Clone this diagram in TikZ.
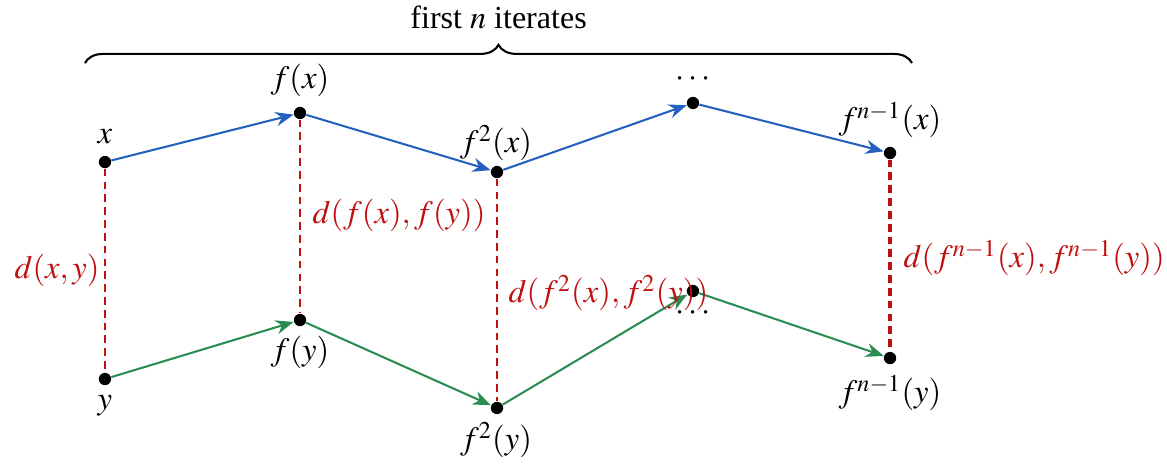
\documentclass[tikz,border=0pt]{standalone}
\usepackage{mathptmx}
\usepackage{fontspec}
\setmainfont{Liberation Serif}
\usetikzlibrary{arrows.meta,decorations.pathreplacing}
\definecolor{orbitblue}{RGB}{36,96,190}
\definecolor{orbitgreen}{RGB}{42,140,82}
\definecolor{distred}{RGB}{190,16,16}
\tikzset{dot/.style = {shape = circle, fill, inner sep = 0pt, minimum size = 4.8pt}}
\tikzset{orbit/.style = {-{Stealth[length = 7pt, width = 5.5pt]}, line width = 0.8pt}}
\tikzset{dist/.style = {distred, dash pattern = on 3pt off 2pt, line width = 0.8pt}}
\tikzset{lab/.style = {font = \fontsize{12.7}{15}\selectfont, inner sep = 1pt}}

\begin{document}
\begin{tikzpicture}
			\useasboundingbox (0, 0) rectangle (15.986, 6.384);

			% orbit of x
			\node[dot] (x) at (1.438, 4.164) {};
			\node[dot] (fx) at (4.110, 4.836) {};
			\node[dot] (f2x) at (6.808, 4.027) {};
			\node[dot] (dx) at (9.493, 4.973) {};
			\node[dot] (fnx) at (12.192, 4.288) {};

			% orbit of y
			\node[dot] (y) at (1.438, 1.192) {};
			\node[dot] (fy) at (4.110, 2.000) {};
			\node[dot] (f2y) at (6.808, 0.795) {};
			\node[dot] (dy) at (9.493, 2.397) {};
			\node[dot] (fny) at (12.192, 1.479) {};

			\node[lab] (lx) at (1.438, 4.507) {$x$};
			\node[lab] (lfx) at (4.110, 5.288) {$f(x)$};
			\node[lab] (lf2x) at (6.795, 4.425) {$f^2(x)$};
			\node[lab] (ldx) at (9.493, 5.300) {$\cdots$};
			\node[lab] (lfnx) at (12.192, 4.740) {$f^{n-1}(x)$};

			\node[lab] (ly) at (1.438, 0.822) {$y$};
			\node[lab] (lfy) at (4.110, 1.562) {$f(y)$};
			\node[lab] (lf2y) at (6.795, 0.356) {$f^2(y)$};
			\node[lab] (ldy) at (9.493, 2.085) {$\cdots$};
			\node[lab] (lfny) at (12.192, 1.000) {$f^{n-1}(y)$};

			\draw[orbit, orbitblue] (x) to (fx);
			\draw[orbit, orbitblue] (fx) to (f2x);
			\draw[orbit, orbitblue] (f2x) to (dx);
			\draw[orbit, orbitblue] (dx) to (fnx);

			\draw[orbit, orbitgreen] (y) to (fy);
			\draw[orbit, orbitgreen] (fy) to (f2y);
			\draw[orbit, orbitgreen] (f2y) to (dy);
			\draw[orbit, orbitgreen] (dy) to (fny);

			% distances
			\draw[dist] (x) to (y);
			\draw[dist] (fx) to (fy);
			\draw[dist] (f2x) to (f2y);
			\draw[dist, line width = 1.6pt] (fnx) to (fny);

			\node[lab, distred, anchor = east] (dxy) at (1.405, 2.685) {$d(x,y)$};
			\node[lab, distred, anchor = west] (dfxy) at (4.239, 3.438) {$d(f(x),f(y))$};
			\node[lab, distred, anchor = west] (df2xy) at (6.924, 2.370) {$d(f^2(x),f^2(y))$};
			\node[lab, distred, anchor = west] (dfnxy) at (12.335, 2.849) {$d(f^{n-1}(x),f^{n-1}(y))$};

			% brace over the iterates
			\coordinate (bl) at (1.164, 5.52);
			\coordinate (br) at (12.493, 5.52);
			\draw[line width = 0.8pt, decorate, decoration = {brace, amplitude = 0.25cm}] (bl) to (br);
			\node[font = \fontsize{12.5}{15}\selectfont, anchor = base] (iter) at (6.83, 6.0) {first $n$ iterates};
		\end{tikzpicture}
\end{document}
